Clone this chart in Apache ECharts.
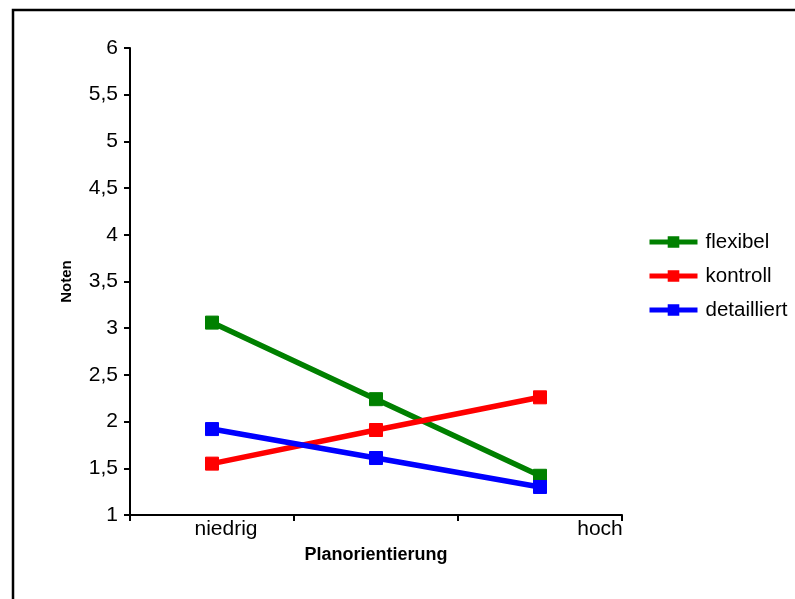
<!DOCTYPE html>
<html><head><meta charset="utf-8">
<script src="https://cdn.jsdelivr.net/npm/echarts@6/dist/echarts.min.js"></script>
<style>html,body{margin:0;padding:0;background:#fff}#c{width:795px;height:599px}</style>
</head><body><div id="c"></div>
<script>
const categories = ['niedrig', '', 'hoch'];
const flexibel = [3.06, 2.24, 1.42];
const kontroll = [1.55, 1.91, 2.26];
const detailliert = [1.92, 1.61, 1.30];
const yTicks = {min: 1, max: 6, interval: 0.5};

const chart = echarts.init(document.getElementById('c'), null, {renderer: 'canvas'});
const font = '"Liberation Sans", Arial, sans-serif';
const narrow = '"Liberation Sans Narrow", "Arial Narrow", "Liberation Sans", sans-serif';
function mk(name, data, color) {
  return {
    name: name, type: 'line', data: data,
    symbol: 'rect', symbolSize: 13,
    lineStyle: {color: color, width: 5.5},
    itemStyle: {color: color, borderColor: color, borderWidth: 1},
    emphasis: {disabled: true}
  };
}
chart.setOption({
  animation: false,
  backgroundColor: '#fff',
  graphic: [{type: 'rect', shape: {x: 13, y: 10, width: 790, height: 600},
    style: {fill: 'none', stroke: '#000', lineWidth: 2.5}, z: 100}],
  grid: {left: 130, top: 48, right: 173, bottom: 84},
  legend: {
    orient: 'vertical', left: 642, top: 225, itemGap: 10,
    itemWidth: 48, itemHeight: 12,
    lineStyle: {width: 5},
    textStyle: {fontFamily: font, fontSize: 20.5, color: '#000', lineHeight: 24, padding: [0, 0, 0, 3]},
    data: ['flexibel', 'kontroll', 'detailliert']
  },
  xAxis: {
    type: 'category', data: categories, boundaryGap: true,
    name: 'Planorientierung', nameLocation: 'middle', nameGap: 31,
    nameTextStyle: {fontFamily: narrow, fontSize: 18, fontWeight: 'bold', color: '#000'},
    axisLine: {lineStyle: {color: '#000', width: 2}},
    axisTick: {show: true, length: 6, lineStyle: {color: '#000', width: 2}},
    axisLabel: {
      margin: 4, interval: 0,
      fontFamily: narrow, fontSize: 21, color: '#000',
      formatter: function (v, i) { return i === 0 ? '{a|' + v + '}' : (i === 2 ? '{b|' + v + '}' : v); },
      rich: {
        a: {fontFamily: narrow, fontSize: 21, color: '#000', padding: [0, 0, 0, 28]},
        b: {fontFamily: narrow, fontSize: 21, color: '#000', padding: [0, 0, 0, 120]}
      }
    }
  },
  yAxis: {
    type: 'value', min: yTicks.min, max: yTicks.max, interval: yTicks.interval,
    name: 'Noten', nameLocation: 'middle', nameGap: 56,
    nameTextStyle: {fontFamily: font, fontSize: 15, fontWeight: 'bold', color: '#000'},
    axisLine: {show: true, lineStyle: {color: '#000', width: 2}},
    axisTick: {show: true, length: 6, lineStyle: {color: '#000', width: 2}},
    splitLine: {show: false},
    axisLabel: {
      margin: 12, fontFamily: font, fontSize: 21, color: '#000',
      formatter: function (v) { return String(v).replace('.', ','); }
    }
  },
  series: [
    mk('flexibel', flexibel, '#008000'),
    mk('kontroll', kontroll, '#ff0000'),
    mk('detailliert', detailliert, '#0000ff')
  ]
});
</script></body></html>
